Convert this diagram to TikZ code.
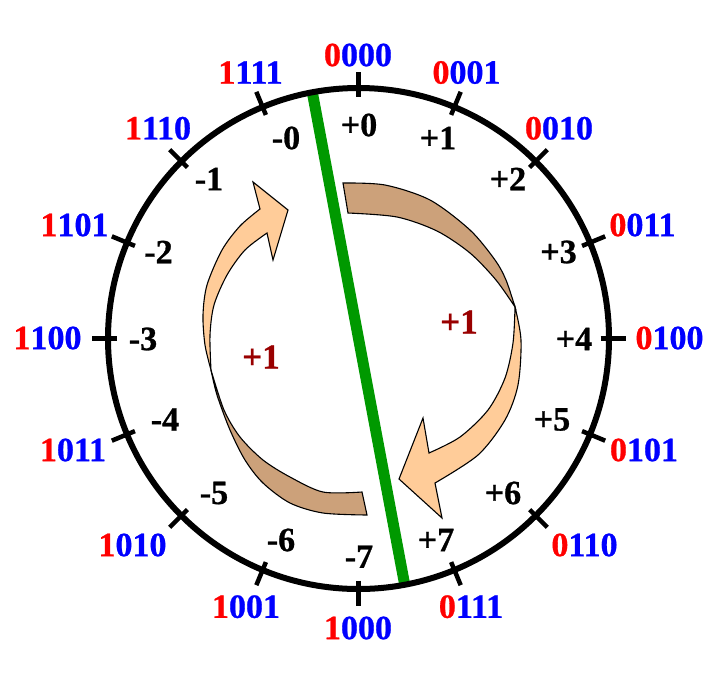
\documentclass[tikz,border=0pt]{standalone}
\usepackage{fontspec}
\setmainfont{Liberation Serif}[BoldFeatures={FakeBold=0.8}]
\definecolor{peach}{RGB}{255,204,153}
\definecolor{arrowback}{RGB}{204,161,122}
\definecolor{greenline}{RGB}{0,153,0}
\definecolor{incred}{RGB}{153,0,0}
\newcommand\bitlbl[2]{\textcolor{red}{#1}\textcolor{blue}{#2}}
\begin{document}
\begin{tikzpicture}[x=1pt,y=-1pt,
  lbl/.style={font=\fontsize{34}{40}\selectfont\bfseries, inner sep=0pt, anchor=center},
  ticks/.style={line width=4.5pt},
  front/.style={fill=peach, draw=black, line width=1.1pt, line join=miter},
  back/.style={fill=arrowback, draw=black, line width=1.1pt},
  inc/.style={font=\fontsize{35}{40}\selectfont\bfseries, text=incred, inner sep=0pt}]
\useasboundingbox (0,0) rectangle (719,673);
\coordinate (c) at (358.5,338.5);
% green divider
\coordinate (gtop) at (312.4,92.8);
\coordinate (gbot) at (404.6,584.2);
\draw[greenline, line width=11pt] (gtop) -- (gbot);
% ring and ticks
\draw[line width=6pt] (c) circle (250.5);
\foreach \a in {0,22.5,...,337.5}
  \draw[ticks] (c) ++(\a:242) -- ++(\a:25);
% left arrow
\filldraw[back] plot[smooth] coordinates {(211,370) (224,410) (240,437) (263,460) (290,477) (323,492) (362,492)}
  -- (367,515) -- plot[smooth] coordinates {(367,515) (323,513) (290,503) (263,483) (245,460) (230,430) (217,395) (211,370)} -- cycle;
\filldraw[front] plot[smooth] coordinates {(211,370) (205,345) (203,315) (207,285) (222,250) (240,226) (260,209)}
  -- (253,182) -- (288,210) -- (273,260)
  -- plot[smooth] coordinates {(267,233) (245,250) (227,275) (214,305) (210,335) (211,370)} -- cycle;
% right arrow
\filldraw[back] plot[smooth] coordinates {(515,307) (506,280) (495,260) (470,230) (430,200) (385,185) (343,183)}
  -- (348,213) -- plot[smooth] coordinates {(348,213) (397,217) (437,231) (470,253) (496,280) (515,307)} -- cycle;
\filldraw[front] plot[smooth] coordinates {(515,307) (521,340) (518,385) (505,420) (478,455) (435,483)}
  -- (442,518) -- (399,479) -- (423,418)
  -- plot[smooth] coordinates {(429,453) (460,437) (488,410) (505,378) (513,343) (515,307)} -- cycle;
\node[inc] (incl) at (261,357) {+1};
\node[inc] (incr) at (459,322) {+1};
% outer binary labels
\node[lbl] (b0)  at (358,55)    {\bitlbl{0}{000}};
\node[lbl] (b1)  at (466.5,72.5) {\bitlbl{0}{001}};
\node[lbl] (b2)  at (559,128.3) {\bitlbl{0}{010}};
\node[lbl] (b3)  at (642.5,225) {\bitlbl{0}{011}};
\node[lbl] (b4)  at (669.5,338) {\bitlbl{0}{100}};
\node[lbl] (b5)  at (644,450)   {\bitlbl{0}{101}};
\node[lbl] (b6)  at (584.5,545) {\bitlbl{0}{110}};
\node[lbl] (b7)  at (471,606.7) {\bitlbl{0}{111}};
\node[lbl] (b8)  at (358,628)   {\bitlbl{1}{000}};
\node[lbl] (b9)  at (246,606.7) {\bitlbl{1}{001}};
\node[lbl] (b10) at (132.5,545) {\bitlbl{1}{010}};
\node[lbl] (b11) at (73,450)    {\bitlbl{1}{011}};
\node[lbl] (b12) at (47.5,338)  {\bitlbl{1}{100}};
\node[lbl] (b13) at (74.5,225)  {\bitlbl{1}{101}};
\node[lbl] (b14) at (158,128.3) {\bitlbl{1}{110}};
\node[lbl] (b15) at (250.5,72.5) {\bitlbl{1}{111}};
% inner value labels
\node[lbl] (p0) at (359,125)   {+0};
\node[lbl] (p1) at (438,138)   {+1};
\node[lbl] (p2) at (508,179)   {+2};
\node[lbl] (p3) at (558.5,252) {+3};
\node[lbl] (p4) at (574,339)   {+4};
\node[lbl] (p5) at (552,419.5) {+5};
\node[lbl] (p6) at (503,493)   {+6};
\node[lbl] (p7) at (436,540)   {+7};
\node[lbl] (m7) at (359,556.7) {-7};
\node[lbl] (m6) at (281,540)   {-6};
\node[lbl] (m5) at (214,493)   {-5};
\node[lbl] (m4) at (165,419.5) {-4};
\node[lbl] (m3) at (143,339)   {-3};
\node[lbl] (m2) at (158.5,252) {-2};
\node[lbl] (m1) at (209,179)   {-1};
\node[lbl] (m0) at (286,138)   {-0};
\end{tikzpicture}
\end{document}
